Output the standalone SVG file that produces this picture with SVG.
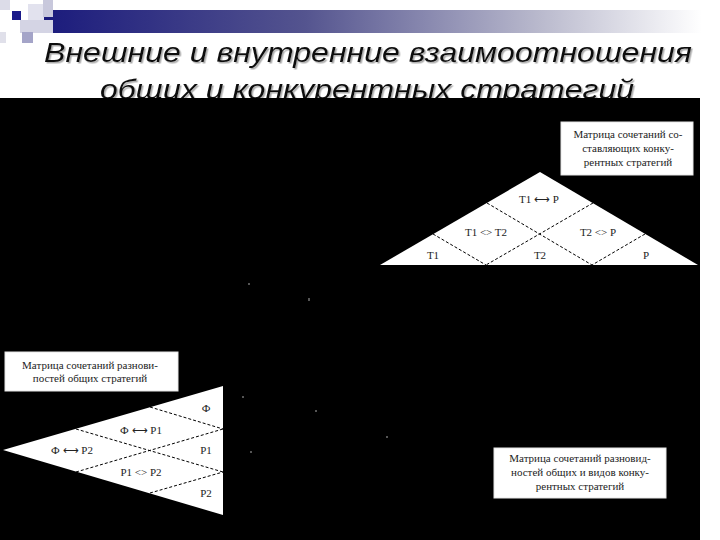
<svg xmlns="http://www.w3.org/2000/svg" width="720" height="540" viewBox="0 0 720 540">
<defs>
<linearGradient id="bar" x1="0" y1="0" x2="1" y2="0">
<stop offset="0" stop-color="#1a1a7c"/>
<stop offset="0.4" stop-color="#54548f"/>
<stop offset="0.75" stop-color="#b8b8cc"/>
<stop offset="1" stop-color="#ffffff"/>
</linearGradient>
<filter id="shadow" x="-5%" y="-20%" width="110%" height="150%">
<feDropShadow dx="1.5" dy="1.5" stdDeviation="0.5" flood-color="#888" flood-opacity="0.7"/>
</filter>
<style>
.title{font-family:"Liberation Sans",Arial,sans-serif;font-style:italic;font-size:28px;fill:#111;filter:url(#shadow)}
.lbl{font-family:"Liberation Serif","Times New Roman",serif;font-size:11px;fill:#222;text-anchor:middle}
.box{fill:#fff;stroke:#e6e6e6;stroke-width:1}
.tri{fill:#fff;stroke:none}
.dash{stroke:#000;stroke-width:1;stroke-dasharray:3 2;fill:none}
</style>
</defs>
<rect x="0" y="0" width="720" height="540" fill="#fff"/>
<g id="header">
<rect x="40" y="10" width="662" height="23" fill="url(#bar)"/>
<rect x="0" y="0" width="10" height="10" fill="#dcdce8"/>
<rect x="28" y="4" width="16" height="16" fill="#e2e2ee"/>
<rect x="43" y="0" width="10" height="17" fill="#c8c8dc"/>
<rect x="20" y="20" width="33" height="13" fill="#d4d4e4"/>
<rect x="12" y="11" width="9" height="9" fill="#1a1a8a"/>
<rect x="22" y="32" width="11" height="11" fill="#a4a4c8"/>
<rect x="0" y="32" width="6" height="11" fill="#e0e0ea"/>
<text class="title" x="368" y="62" text-anchor="middle" textLength="648" lengthAdjust="spacingAndGlyphs">Внешние и внутренние взаимоотношения</text>
<text class="title" x="367" y="99" text-anchor="middle" textLength="534" lengthAdjust="spacingAndGlyphs">общих и конкурентных стратегий</text>
</g>
<rect id="panel" x="0" y="98" width="700" height="442" fill="#000"/>
<g id="marks" fill="#555">
<rect x="248" y="283" width="2" height="2"/>
<rect x="308" y="298" width="2" height="3"/>
<rect x="242" y="396" width="2" height="2"/>
<rect x="315" y="410" width="2" height="2"/>
<rect x="386" y="436" width="2" height="2"/>
<rect x="250" y="451" width="2" height="2"/>
</g>
<g id="box-top">
<rect class="box" x="561" y="122" width="132" height="53"/>
<text class="lbl" x="628" y="138">Матрица сочетаний со-</text>
<text class="lbl" x="628" y="152">ставляющих конку-</text>
<text class="lbl" x="628" y="166">рентных стратегий</text>
</g>
<g id="triangle-top">
<polygon class="tri" points="540,172 380,265 698,265"/>
</g>
<g id="box-left">
<rect class="box" x="5" y="352" width="173" height="39"/>
<text class="lbl" x="90" y="369">Матрица сочетаний разнови-</text>
<text class="lbl" x="90" y="382">постей общих стратегий</text>
</g>
<g id="triangle-left">
<polygon class="tri" points="3,450 223,386 223,515"/>
</g>
<g id="box-bottom">
<rect class="box" x="494" y="448" width="172" height="50"/>
<text class="lbl" x="580" y="462">Матрица сочетаний разновид-</text>
<text class="lbl" x="580" y="476">ностей общих и видов конку-</text>
<text class="lbl" x="580" y="490">рентных стратегий</text>
</g>
<g id="connectors">
<line class="dash" x1="487" y1="203" x2="592" y2="265"/>
<line class="dash" x1="433" y1="234" x2="486" y2="265"/>
<line class="dash" x1="593" y1="203" x2="486" y2="265"/>
<line class="dash" x1="645" y1="234" x2="592" y2="265"/>
<line class="dash" x1="150" y1="407" x2="223" y2="429"/>
<line class="dash" x1="76" y1="472" x2="223" y2="429"/>
<line class="dash" x1="76" y1="429" x2="223" y2="472"/>
<line class="dash" x1="150" y1="493" x2="223" y2="472"/>
</g>
<g id="labels-top">
<text class="lbl" x="539" y="203">T1 ⟷ P</text>
<text class="lbl" x="486" y="236">T1 &lt;&gt; T2</text>
<text class="lbl" x="598" y="236">T2 &lt;&gt; P</text>
<text class="lbl" x="433" y="259">T1</text>
<text class="lbl" x="540" y="259">T2</text>
<text class="lbl" x="646" y="259">P</text>
</g>
<g id="labels-left">
<text class="lbl" x="206" y="412">Ф</text>
<text class="lbl" x="141" y="434">Ф ⟷ P1</text>
<text class="lbl" x="72" y="454">Ф ⟷ P2</text>
<text class="lbl" x="206" y="454">P1</text>
<text class="lbl" x="141" y="476">P1 &lt;&gt; P2</text>
<text class="lbl" x="206" y="497">P2</text>
</g>
</svg>
